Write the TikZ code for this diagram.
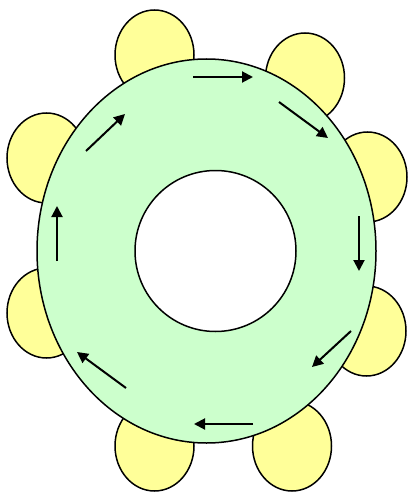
\documentclass[tikz,border=0pt]{standalone}
\usetikzlibrary{arrows.meta,shapes.geometric}
\definecolor{petalyellow}{RGB}{255,255,153}
\definecolor{ringgreen}{RGB}{204,255,204}
\begin{document}
\begin{tikzpicture}[x=1pt, y=-1pt, line width=1.5pt,
  petal/.style={draw,fill=petalyellow,ellipse,inner sep=0pt,minimum width=79pt,minimum height=90pt},
  flow/.style={-{Triangle[length=11pt,width=11pt]},line width=2pt}]
\useasboundingbox (0,0) rectangle (409,492);
% petals behind the ring
\node[petal] (ptop) at (154.5,55) {};
\node[petal] (ptopright) at (305,78) {};
\node[petal] (prightup) at (367.5,177) {};
\node[petal] (prightlow) at (366.5,331) {};
\node[petal] (pbotright) at (292,446) {};
\node[petal] (pbot) at (154.5,446) {};
\node[petal] (pleftlow) at (46.5,313) {};
\node[petal] (pleftup) at (46.5,158) {};
% ring and hole
\node[draw,fill=ringgreen,ellipse,inner sep=0pt,minimum width=339pt,minimum height=384pt] (ring) at (206.5,251) {};
\node[draw,fill=white,circle,inner sep=0pt,minimum size=161pt] (hole) at (215.5,251) {};
% flow arrows
\coordinate (a1s) at (193,77);  \coordinate (a1e) at (253,77);
\coordinate (a2s) at (279,102); \coordinate (a2e) at (328,138);
\coordinate (a3s) at (359,216); \coordinate (a3e) at (359,271);
\coordinate (a4s) at (351,331); \coordinate (a4e) at (312,367);
\coordinate (a5s) at (253,424); \coordinate (a5e) at (194,424);
\coordinate (a6s) at (126,388); \coordinate (a6e) at (77,352);
\coordinate (a7s) at (57,261);  \coordinate (a7e) at (57,206);
\coordinate (a8s) at (86,151);  \coordinate (a8e) at (125,114);
\draw[flow] (a1s) -- (a1e);
\draw[flow] (a2s) -- (a2e);
\draw[flow] (a3s) -- (a3e);
\draw[flow] (a4s) -- (a4e);
\draw[flow] (a5s) -- (a5e);
\draw[flow] (a6s) -- (a6e);
\draw[flow] (a7s) -- (a7e);
\draw[flow] (a8s) -- (a8e);
\end{tikzpicture}
\end{document}
